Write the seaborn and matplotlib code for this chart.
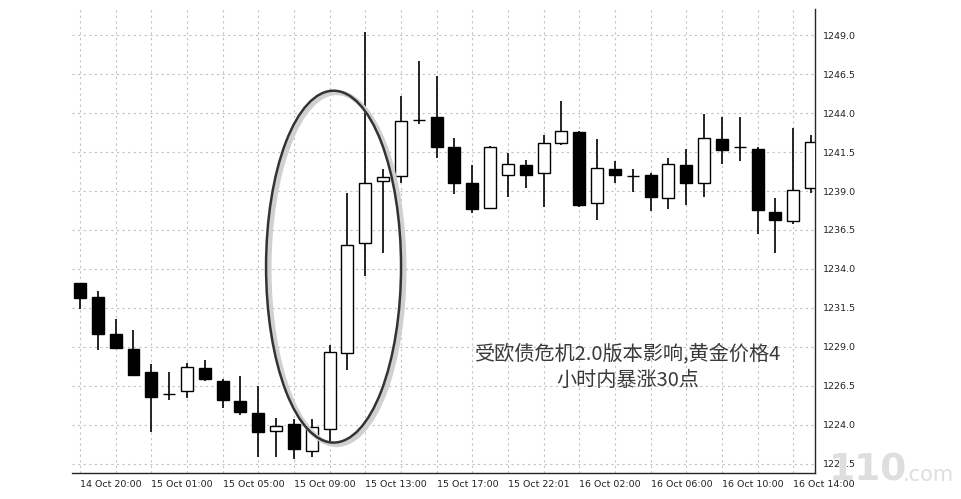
import numpy as np
import pandas as pd
import matplotlib
matplotlib.use("Agg")
import matplotlib.pyplot as plt
from matplotlib.patches import Ellipse
import seaborn as sns

# 1小时K线, 14 Oct 20:00 起
opens = [1233.08, 1232.23, 1229.81, 1228.89, 1227.42, 1226.00, 1226.18, 1227.67,
         1226.84, 1225.56, 1224.79, 1223.64, 1224.06, 1222.33, 1223.72, 1228.60,
         1235.69, 1239.66, 1239.96, 1243.55, 1243.72, 1241.84, 1239.49, 1237.89,
         1240.03, 1240.67, 1240.17, 1242.10, 1242.80, 1238.25, 1240.41, 1239.96,
         1240.03, 1238.53, 1240.67, 1239.49, 1242.31, 1241.80, 1241.67, 1237.65,
         1237.08, 1239.17]
highs = [1233.10, 1232.61, 1230.78, 1230.09, 1227.89, 1227.40, 1227.95, 1228.17,
         1226.95, 1227.16, 1226.50, 1224.43, 1224.38, 1224.38, 1229.13, 1238.85,
         1249.21, 1240.41, 1245.09, 1247.33, 1246.37, 1242.38, 1240.67, 1241.90,
         1241.46, 1240.99, 1242.59, 1244.77, 1242.85, 1242.31, 1240.94, 1240.39,
         1240.17, 1241.10, 1241.67, 1243.94, 1243.76, 1243.72, 1241.84, 1238.53,
         1243.02, 1242.59]
lows = [1231.42, 1228.81, 1228.90, 1227.20, 1223.53, 1225.60, 1225.75, 1226.82,
        1225.11, 1224.62, 1221.97, 1221.97, 1221.80, 1221.93, 1222.87, 1227.53,
        1233.55, 1235.01, 1239.49, 1243.30, 1241.13, 1238.79, 1237.57, 1237.85,
        1238.60, 1239.21, 1237.99, 1241.95, 1238.00, 1237.14, 1239.53, 1238.96,
        1237.74, 1237.83, 1238.10, 1238.60, 1240.73, 1240.94, 1236.24, 1235.01,
        1236.87, 1238.85]
closes = [1232.12, 1229.83, 1228.92, 1227.21, 1225.81, 1226.00, 1227.74, 1226.95,
          1225.60, 1224.83, 1223.57, 1223.94, 1222.44, 1223.85, 1228.66, 1235.54,
          1239.53, 1239.92, 1243.51, 1243.55, 1241.84, 1239.53, 1237.83, 1241.84,
          1240.73, 1240.03, 1242.06, 1242.85, 1238.10, 1240.45, 1240.03, 1239.96,
          1238.60, 1240.73, 1239.53, 1242.38, 1241.63, 1241.80, 1237.78, 1237.14,
          1239.06, 1242.12]

tick_labels = ["14 Oct 20:00", "15 Oct 01:00", "15 Oct 05:00", "15 Oct 09:00",
               "15 Oct 13:00", "15 Oct 17:00", "15 Oct 22:01", "16 Oct 02:00",
               "16 Oct 06:00", "16 Oct 10:00", "16 Oct 14:00"]
y_ticks = [1221.5, 1224.0, 1226.5, 1229.0, 1231.5, 1234.0, 1236.5, 1239.0,
           1241.5, 1244.0, 1246.5, 1249.0]
note = "受欧债危机2.0版本影响,黄金价格4\n小时内暴涨30点"

df = pd.DataFrame({"open": opens, "high": highs, "low": lows, "close": closes})
df["x"] = np.arange(len(df))
df["bottom"] = df[["open", "close"]].min(axis=1)
df["height"] = (df["close"] - df["open"]).abs()
df["face"] = np.where(df["close"] < df["open"], "black", "white")

sns.set_style("white")
plt.rcParams["font.family"] = ["DejaVu Sans"]

fig = plt.figure(figsize=(9.62, 4.99), dpi=100)
ax = fig.add_axes([0.0748, 0.0521, 0.7724, 0.9299])

# 影线
ax.vlines(df["x"], df["low"], df["high"], color="black", lw=1.2, zorder=2)
# 实体
ax.bar(df["x"], df["height"], bottom=df["bottom"], width=0.67,
       color=df["face"], edgecolor="black", linewidth=1.0, zorder=3)

ax.set_xlim(-0.45, 41.22)
ax.set_ylim(1220.92, 1250.67)

ax.set_xticks(np.arange(0, 41, 4))
ax.set_xticklabels(tick_labels, ha="left", fontsize=6.8, color="#222222")
ax.set_xticks(np.arange(2, 41, 4), minor=True)
ax.yaxis.tick_right()
ax.set_yticks(y_ticks)
ax.set_yticklabels([f"{v:.1f}" for v in y_ticks], fontsize=6.8, color="#222222")
ax.tick_params(axis="x", which="major", direction="inout", length=6, width=0.8, pad=2)
ax.tick_params(axis="x", which="minor", length=0)
ax.tick_params(axis="y", direction="out", length=3, width=0.8, pad=3)

ax.grid(True, which="both", color="#c2c2c2", lw=0.8, linestyle=(0, (2, 3)))
ax.set_axisbelow(True)

sns.despine(ax=ax, left=True, top=True, right=False, bottom=False)
ax.spines["right"].set_linewidth(1.0)
ax.spines["bottom"].set_linewidth(1.0)

# 椭圆圈出暴涨区域 (带灰色阴影)
ax.add_patch(Ellipse((14.39, 1234.02), 7.57, 22.56, fill=False,
                     edgecolor="#d0d0d0", lw=3.5, zorder=4, clip_on=False))
ax.add_patch(Ellipse((14.22, 1234.15), 7.57, 22.56, fill=False,
                     edgecolor="#333333", lw=1.8, zorder=5, clip_on=False))

ax.text(30.73, 1227.7, note, ha="center", va="center", fontsize=14.5,
        color="#3a3a3a", linespacing=1.35,
        family=["Noto Sans CJK SC", "DejaVu Sans"], zorder=6)

# 水印
fig.text(0.862, 0.022, "110", fontsize=27, fontweight="bold", color="#dedede",
         ha="left", va="bottom", zorder=10)
fig.text(0.938, 0.028, ".com", fontsize=15, color="#dedede",
         ha="left", va="bottom", zorder=10)

fig.savefig("out.png", dpi=100)
